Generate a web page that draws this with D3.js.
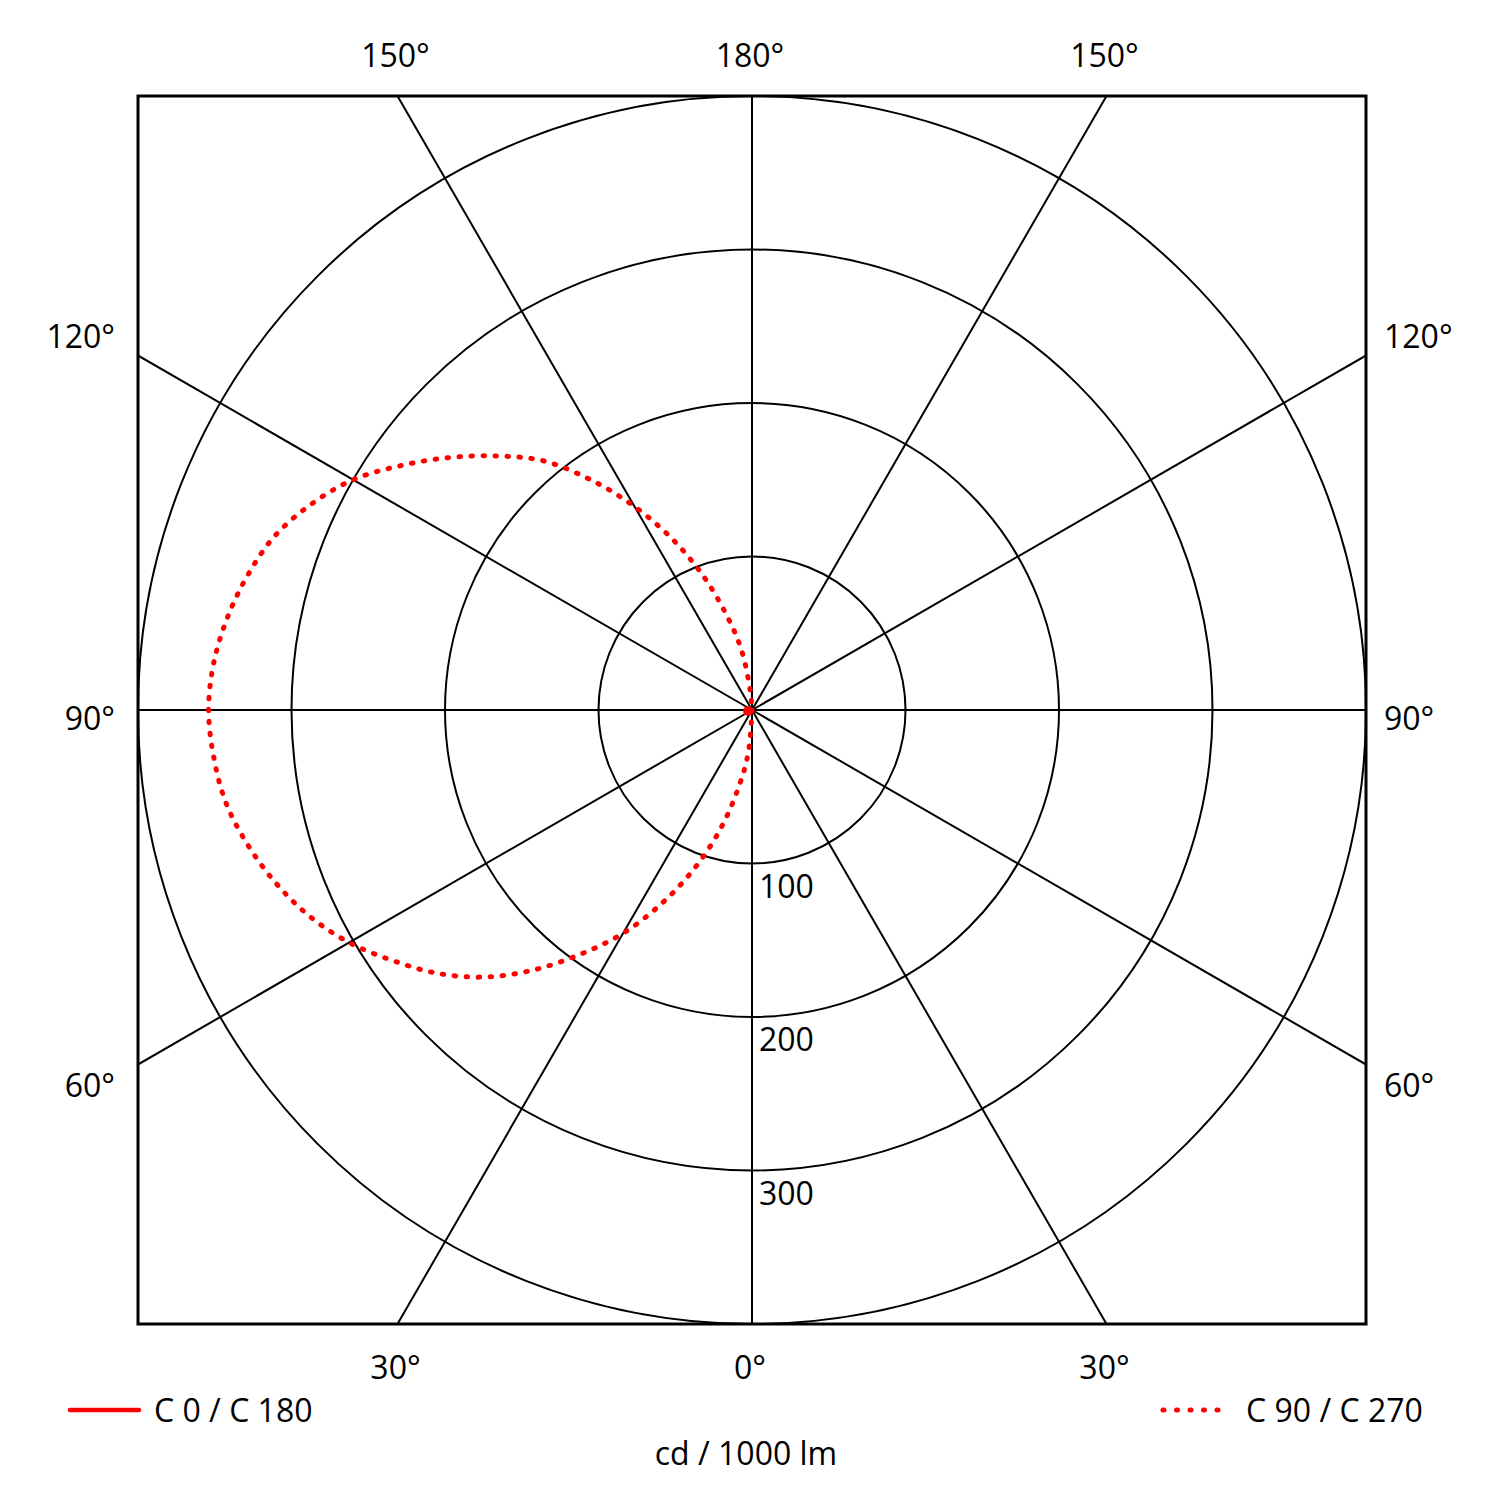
<!DOCTYPE html>
<html lang="en">
<head>
    <meta charset="UTF-8">
    <title>Polar Light Distribution</title>
    <script src="https://d3js.org/d3.v7.min.js"></script>
    <style>
        body {
            margin: 0;
            background-color: #ffffff;
        }
        text {
            font-family: 'Open Sans', sans-serif;
            font-size: 32px;
            fill: #000000;
        }
    </style>
</head>
<body>
    <svg width="1500" height="1499"></svg>

    <script>
        // gamma angles (deg) measured from the downward vertical
        const gammaAngles = [0, 5, 10, 15, 20, 25, 30, 35, 40, 45, 50, 55, 60, 65, 70, 75, 80, 85, 90,
                             95, 100, 105, 110, 115, 120, 125, 130, 135, 140, 145, 150, 155, 160, 165, 170, 175, 180];

        // C0 / C180 plane (cd / 1000 lm) - nothing emitted
        const c0Values   = [0, 0, 0, 0, 0, 0, 0, 0, 0, 0, 0, 0, 0, 0, 0, 0, 0, 0, 0,
                            0, 0, 0, 0, 0, 0, 0, 0, 0, 0, 0, 0, 0, 0, 0, 0, 0, 0];
        const c180Values = [0, 0, 0, 0, 0, 0, 0, 0, 0, 0, 0, 0, 0, 0, 0, 0, 0, 0, 0,
                            0, 0, 0, 0, 0, 0, 0, 0, 0, 0, 0, 0, 0, 0, 0, 0, 0, 0];

        // C90 / C270 plane (cd / 1000 lm)
        const c90Values  = [0, 0, 0, 0, 0, 0, 0, 0, 0, 0, 0, 0, 0, 0, 0, 0, 0, 0, 0,
                            0, 0, 0, 0, 0, 0, 0, 0, 0, 0, 0, 0, 0, 0, 0, 0, 0, 0];
        const c270Values = [0, 28, 52, 81, 110, 139, 168, 194, 221, 246, 267, 285, 303, 318, 330, 340, 348, 352, 354,
                            352, 347, 340, 331, 317, 300, 278, 256, 234, 212, 183, 153, 123, 93, 64, 40, 12, 0];

        const ringValues = [100, 200, 300, 400];
        const ringLabels = ["100", "200", "300"];
        const spokeAngles = [0, 30, 60, 90, 120, 150, 180, 210, 240, 270, 300, 330];
        const topLabels = ["150°", "180°", "150°"];
        const sideLabels = ["120°", "90°", "60°"];
        const bottomLabels = ["30°", "0°", "30°"];
        const legendNames = ["C 0 / C 180", "C 90 / C 270"];
        const unitLabel = "cd / 1000 lm";

        const svg = d3.select("svg");
        const cx = 752, cy = 710;
        const r = d3.scaleLinear().domain([0, 400]).range([0, 614]);
        const half = r(400);
        const rad = d => d * Math.PI / 180;

        svg.append("defs").append("clipPath").attr("id", "frame")
           .append("rect")
           .attr("x", cx - half).attr("y", cy - half)
           .attr("width", 2 * half).attr("height", 2 * half);

        const g = svg.append("g").attr("transform", `translate(${cx},${cy})`);
        const grid = g.append("g").attr("clip-path", "url(#frame)")
                      .attr("transform", `translate(${-cx},${-cy})`)
                      .append("g").attr("transform", `translate(${cx},${cy})`);

        // rings
        grid.selectAll(".ring")
            .data(ringValues)
            .enter()
            .append("circle")
            .attr("r", d => r(d))
            .attr("fill", "none")
            .attr("stroke", "#000")
            .attr("stroke-width", 2);

        // spokes, run out to the frame
        grid.selectAll(".spoke")
            .data(spokeAngles)
            .enter()
            .append("line")
            .attr("x1", 0).attr("y1", 0)
            .attr("x2", d => Math.sin(rad(d)) * half * 1.5)
            .attr("y2", d => Math.cos(rad(d)) * half * 1.5)
            .attr("stroke", "#000")
            .attr("stroke-width", 2);

        // frame
        svg.append("rect")
           .attr("x", cx - half).attr("y", cy - half)
           .attr("width", 2 * half).attr("height", 2 * half)
           .attr("fill", "none")
           .attr("stroke", "#000")
           .attr("stroke-width", 3);

        // ring labels
        g.selectAll(".ringLabel")
         .data(ringLabels)
         .enter()
         .append("text")
         .attr("x", 7)
         .attr("y", (d, i) => r(ringValues[i]) + 34)
         .text(d => d);

        // angle labels round the frame
        const edgeX = a => half * Math.tan(rad(a));
        svg.selectAll(".topLabel")
           .data(topLabels)
           .enter()
           .append("text")
           .attr("x", (d, i) => cx + [-edgeX(30), 0, edgeX(30)][i] - 2)
           .attr("y", 67)
           .attr("text-anchor", "middle")
           .text(d => d);

        svg.selectAll(".bottomLabel")
           .data(bottomLabels)
           .enter()
           .append("text")
           .attr("x", (d, i) => cx + [-edgeX(30), 0, edgeX(30)][i] - 2)
           .attr("y", 1379)
           .attr("text-anchor", "middle")
           .text(d => d);

        const sideY = [348, 730, 1097];
        svg.selectAll(".leftLabel")
           .data(sideLabels)
           .enter()
           .append("text")
           .attr("x", 115)
           .attr("y", (d, i) => sideY[i])
           .attr("text-anchor", "end")
           .text(d => d);

        svg.selectAll(".rightLabel")
           .data(sideLabels)
           .enter()
           .append("text")
           .attr("x", 1384)
           .attr("y", (d, i) => sideY[i])
           .text(d => d);

        // curves
        function planePoints(leftVals, rightVals) {
            const left = gammaAngles.map((a, i) => [Math.PI + rad(a), r(leftVals[i])]);
            const right = gammaAngles.map((a, i) => [Math.PI - rad(a), r(rightVals[i])]).reverse();
            return left.concat(right);
        }

        const radial = d3.lineRadial()
                         .angle(d => d[0])
                         .radius(d => d[1])
                         .curve(d3.curveCatmullRom);

        g.append("path")
         .attr("d", radial(planePoints(c180Values, c0Values)))
         .attr("fill", "none")
         .attr("stroke", "#ff0000")
         .attr("stroke-width", 10)
         .attr("stroke-linecap", "round")
         .attr("transform", "translate(-4,1)");

        g.append("path")
         .attr("d", radial(planePoints(c270Values, c90Values)))
         .attr("fill", "none")
         .attr("stroke", "#ff0000")
         .attr("stroke-width", 5)
         .attr("stroke-linecap", "round")
         .attr("stroke-dasharray", "1.5 10.5");

        // legend
        svg.append("line")
           .attr("x1", 70).attr("x2", 139)
           .attr("y1", 1410).attr("y2", 1410)
           .attr("stroke", "#ff0000")
           .attr("stroke-width", 4.5)
           .attr("stroke-linecap", "round");
        svg.append("text")
           .attr("x", 154).attr("y", 1422)
           .text(legendNames[0]);

        svg.append("line")
           .attr("x1", 1163).attr("x2", 1218)
           .attr("y1", 1410).attr("y2", 1410)
           .attr("stroke", "#ff0000")
           .attr("stroke-width", 5)
           .attr("stroke-linecap", "round")
           .attr("stroke-dasharray", "1 12.5");
        svg.append("text")
           .attr("x", 1246).attr("y", 1422)
           .text(legendNames[1]);

        svg.append("text")
           .attr("x", 746).attr("y", 1465)
           .attr("text-anchor", "middle")
           .text(unitLabel);
    </script>
</body>
</html>
